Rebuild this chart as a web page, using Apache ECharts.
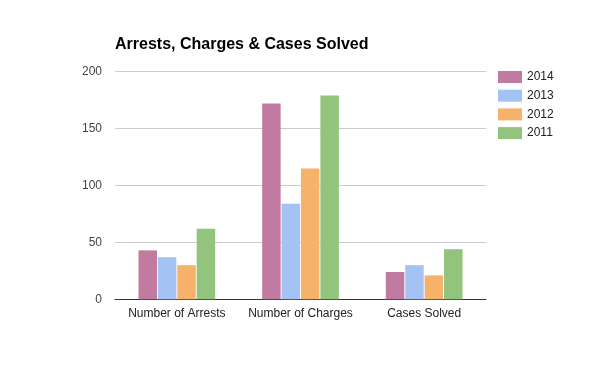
<!DOCTYPE html>
<html><head><meta charset="utf-8">
<script src="https://cdn.jsdelivr.net/npm/echarts@6/dist/echarts.min.js"></script>
<style>html,body{margin:0;padding:0;background:#fff}#c{width:600px;height:371px}</style>
</head><body><div id="c"></div>
<script>
var categories = ['Number of Arrests', 'Number of Charges', 'Cases Solved'];
var years = ['2014', '2013', '2012', '2011'];
var s2014 = [43, 172, 24];
var s2013 = [37, 84, 30];
var s2012 = [30, 115, 21];
var s2011 = [62, 179, 44];
var yTicks = [0, 50, 100, 150, 200];
var colors = ['#c27ba0', '#a4c2f4', '#f6b26b', '#93c47d'];
var seriesData = [s2014, s2013, s2012, s2011];

var chart = echarts.init(document.getElementById('c'), null, {renderer: 'canvas'});
var font = 'Liberation Sans, Arial, sans-serif';
chart.setOption({
  animation: false,
  color: colors,
  textStyle: {fontFamily: font},
  title: {
    text: 'Arrests, Charges & Cases Solved',
    left: 110, top: 32,
    textStyle: {fontFamily: font, fontSize: 16, fontWeight: 'bold', color: '#000'}
  },
  legend: {
    orient: 'vertical', left: 493, top: 66,
    itemWidth: 24, itemHeight: 12, itemGap: 6.7,
    icon: 'rect',
    textStyle: {fontFamily: font, fontSize: 12, color: '#222'},
    data: years
  },
  grid: {left: 115, right: 114, top: 71.7, bottom: 71.7, containLabel: false},
  xAxis: {
    type: 'category', data: categories,
    axisLine: {lineStyle: {color: '#333', width: 1}},
    axisTick: {show: false},
    axisLabel: {fontFamily: font, fontSize: 12, color: '#222', margin: 8, interval: 0}
  },
  yAxis: {
    type: 'value', min: yTicks[0], max: yTicks[yTicks.length - 1], interval: 50,
    axisLine: {show: false}, axisTick: {show: false},
    splitLine: {lineStyle: {color: '#ccc'}},
    axisLabel: {fontFamily: font, fontSize: 12, color: '#444', margin: 13}
  },
  series: years.map(function (y, i) {
    return {name: y, type: 'bar', data: seriesData[i], barGap: '5%', barCategoryGap: '38%'};
  })
});
</script></body></html>
